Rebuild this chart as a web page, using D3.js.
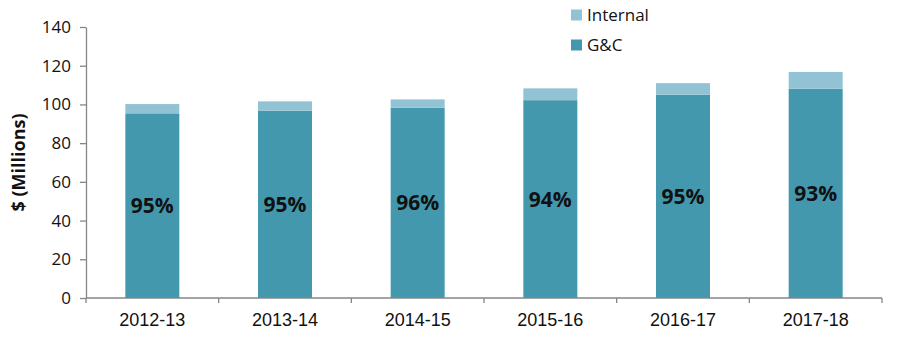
<!DOCTYPE html>
<html>
<head>
<meta charset="utf-8">
<script src="https://cdn.jsdelivr.net/npm/d3@7"></script>
<style>
  html, body { margin: 0; padding: 0; background: #fff; }
  svg { display: block; }
</style>
</head>
<body>
<svg id="chart" width="900" height="339"></svg>
<script>
// Funding by fiscal year, $ millions
const years = ["2012-13", "2013-14", "2014-15", "2015-16", "2016-17", "2017-18"];
const gcValues = [95.4, 96.8, 98.3, 102.2, 105.0, 108.1];
const internalValues = [4.8, 4.8, 4.3, 6.1, 6.0, 8.7];
const yTicks = [0, 20, 40, 60, 80, 100, 120, 140];
const seriesNames = ["G&C", "Internal"];
const seriesColors = { "G&C": "#4398ae", "Internal": "#92c3d4" };

const svg = d3.select("#chart");
const margin = { left: 86, right: 18, top: 27, bottom: 41 };
const W = 900, H = 339;

const x = d3.scaleBand()
  .domain(years)
  .range([margin.left, W - margin.right])
  .paddingInner(0.593)
  .paddingOuter(0.2965);

const y = d3.scaleLinear()
  .domain([0, 140])
  .range([H - margin.bottom, margin.top]);

const rows = years.map((yr, i) => ({ year: yr, "G&C": gcValues[i], "Internal": internalValues[i] }));
const stacked = d3.stack().keys(seriesNames)(rows);

// Bars
svg.append("g").selectAll("g")
  .data(stacked)
  .join("g")
  .attr("fill", d => seriesColors[d.key])
  .selectAll("rect")
  .data(d => d)
  .join("rect")
  .attr("x", d => x(d.data.year))
  .attr("width", x.bandwidth())
  .attr("y", d => y(d[1]))
  .attr("height", d => y(d[0]) - y(d[1]));

// Share of G&C in each bar
svg.append("g").selectAll("text")
  .data(rows)
  .join("text")
  .attr("x", d => x(d.year) + x.bandwidth() / 2)
  .attr("y", d => (y(0) + y(d["G&C"])) / 2)
  .attr("dy", "0.36em")
  .attr("text-anchor", "middle")
  .style("font-family", "'Open Sans', 'Noto Sans', sans-serif")
  .style("font-weight", "bold")
  .style("font-size", "21px")
  .attr("fill", "#111")
  .text(d => Math.round(100 * d["G&C"] / (d["G&C"] + d["Internal"])) + "%");

// Y axis
const yAxis = svg.append("g")
  .attr("transform", `translate(${margin.left},0)`)
  .call(d3.axisLeft(y).tickValues(yTicks).tickSize(6).tickPadding(9).tickSizeOuter(0));
yAxis.select(".domain").attr("stroke", "#868686").attr("stroke-width", 1.3);
yAxis.selectAll(".tick line").attr("stroke", "#868686").attr("stroke-width", 1.3);
yAxis.selectAll(".tick text")
  .style("font-family", "'Open Sans', 'Noto Sans', sans-serif")
  .style("font-size", "17px")
  .attr("fill", "#111");

// X axis with boundary ticks between categories
const xAxisG = svg.append("g").attr("transform", `translate(0,${y(0)})`);
xAxisG.append("line")
  .attr("x1", margin.left).attr("x2", W - margin.right)
  .attr("stroke", "#868686").attr("stroke-width", 1.3);
const step = x.step();
const bounds = d3.range(years.length + 1).map(i => x(years[0]) - x.paddingOuter() * step + i * step);
xAxisG.selectAll("line.b")
  .data(bounds)
  .join("line")
  .attr("class", "b")
  .attr("x1", d => d).attr("x2", d => d)
  .attr("y1", 0).attr("y2", 5)
  .attr("stroke", "#868686").attr("stroke-width", 1.3);
xAxisG.selectAll("text")
  .data(years)
  .join("text")
  .attr("x", d => x(d) + x.bandwidth() / 2)
  .attr("y", 28)
  .attr("text-anchor", "middle")
  .style("font-family", "'Liberation Sans', Arial, sans-serif")
  .style("font-size", "18px")
  .attr("fill", "#111")
  .text(d => d);

// Y axis title
svg.append("text")
  .attr("transform", `translate(25,${(margin.top + y(0)) / 2}) rotate(-90)`)
  .attr("text-anchor", "middle")
  .style("font-family", "'Open Sans', 'Noto Sans', sans-serif")
  .style("font-weight", "bold")
  .style("font-size", "18px")
  .attr("fill", "#111")
  .text("$ (Millions)");

// Legend
const legendItems = ["Internal", "G&C"];
const legend = svg.append("g").attr("transform", "translate(571,9.5)");
const li = legend.selectAll("g")
  .data(legendItems)
  .join("g")
  .attr("transform", (d, i) => `translate(0,${i * 30})`);
li.append("rect")
  .attr("width", 11).attr("height", 11)
  .attr("fill", d => seriesColors[d]);
li.append("text")
  .attr("x", 16).attr("y", 5.5).attr("dy", "0.36em")
  .style("font-family", "'Open Sans', 'Noto Sans', sans-serif")
  .style("font-size", "17px")
  .attr("fill", "#111")
  .text(d => d);
</script>
</body>
</html>
